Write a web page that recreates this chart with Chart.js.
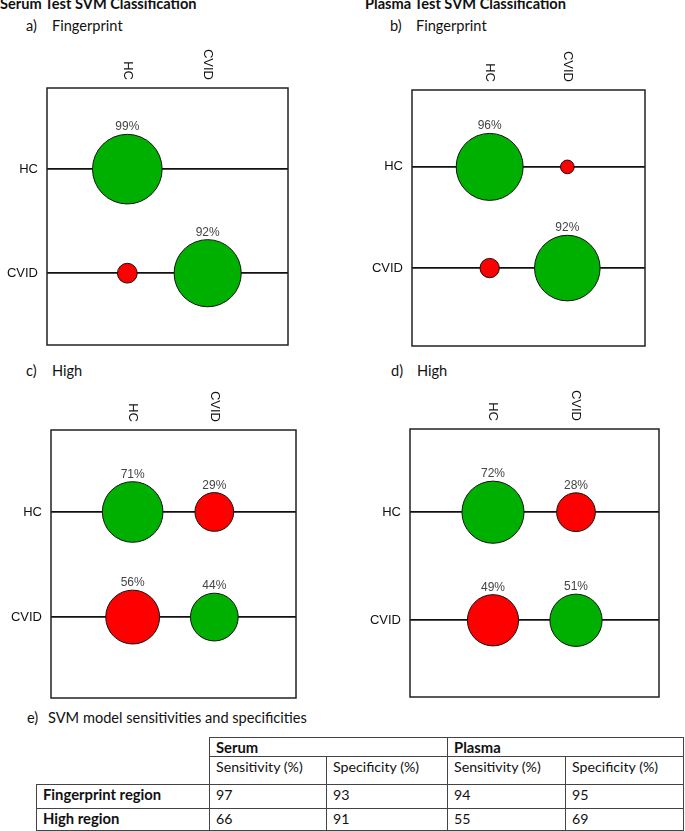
<!DOCTYPE html>
<html>
<head>
<meta charset="utf-8">
<script src="https://cdn.jsdelivr.net/npm/chart.js@4/dist/chart.umd.min.js"></script>
<style>
  html, body { margin: 0; padding: 0; background: #fff; }
  body { width: 685px; height: 831px; position: relative; overflow: hidden; font-family: Lato, "Noto Sans", sans-serif; color: #111; }
  .t { position: absolute; white-space: nowrap; line-height: 1; }
  .title { font-weight: bold; font-size: 14.6px; }
  .sub { font-size: 14.6px; }
  .panel { position: absolute; }
  table { position: absolute; left: 36px; top: 737px; border-collapse: collapse; font-size: 14.2px; table-layout: fixed; }
  td { border: 1px solid #444; padding: 2px 0 0 6px; vertical-align: top; white-space: nowrap; line-height: 1.1; }
  td.blank { border: none; }
  td.b { font-weight: bold; font-size: 14.8px; padding-top: 1px; }
</style>
</head>
<body>
<div class="t title" style="left:0px;top:-3px">Serum Test SVM Classification</div>
<div class="t title" style="left:365px;top:-3px">Plasma Test SVM Classification</div>
<div class="t sub" style="left:26px;top:19px">a)</div><div class="t sub" style="left:52px;top:19px">Fingerprint</div>
<div class="t sub" style="left:390px;top:19px">b)</div><div class="t sub" style="left:416px;top:19px">Fingerprint</div>
<div class="t sub" style="left:26px;top:364px">c)</div><div class="t sub" style="left:52px;top:364px">High</div>
<div class="t sub" style="left:391px;top:364px">d)</div><div class="t sub" style="left:417px;top:364px">High</div>
<div class="t sub" style="left:27px;top:711px">e)</div><div class="t sub" style="left:48px;top:711px">SVM model sensitivities and specificities</div>

<div class="panel" id="pa"><canvas id="ca"></canvas></div>
<div class="panel" id="pb"><canvas id="cb"></canvas></div>
<div class="panel" id="pc"><canvas id="cc"></canvas></div>
<div class="panel" id="pd"><canvas id="cd"></canvas></div>

<table id="tbl">
  <colgroup><col style="width:173px"><col style="width:117px"><col style="width:121px"><col style="width:118px"><col style="width:118px"></colgroup>
  <tbody id="tb"></tbody>
</table>

<script>
// ---- data ----
const classLabels = ['HC', 'CVID'];            // rows = true class, columns = predicted class
// Serum, fingerprint region (percent of each true class)
const serumFingerprintHC   = [99, null];
const serumFingerprintCVID = [8, 92];
// Plasma, fingerprint region
const plasmaFingerprintHC   = [96, 4];
const plasmaFingerprintCVID = [8, 92];
// Serum, high region
const serumHighHC   = [71, 29];
const serumHighCVID = [56, 44];
// Plasma, high region
const plasmaHighHC   = [72, 28];
const plasmaHighCVID = [49, 51];

// table e)
const tableRegions   = ['Fingerprint region', 'High region'];
const serumSens      = [97, 66];
const serumSpec      = [93, 91];
const plasmaSens     = [94, 55];
const plasmaSpec     = [95, 69];

// ---- styles / layout ----
const GREEN = '#00b000', RED = '#ff0000';
const WY = 50, HX = 50, PAD = 3;
const panels = [
  { canvas: 'ca', div: 'pa', rows: [serumFingerprintHC, serumFingerprintCVID],   box: [47, 288, 88, 345],  ymin: -0.78, ymax: 1.69, k: 3.5 },
  { canvas: 'cb', div: 'pb', rows: [plasmaFingerprintHC, plasmaFingerprintCVID], box: [412, 645, 90, 346], ymin: -0.76, ymax: 1.77, k: 3.42 },
  { canvas: 'cc', div: 'pc', rows: [serumHighHC, serumHighCVID],                 box: [51, 296, 430, 698], ymin: -0.78, ymax: 1.77, k: 3.6 },
  { canvas: 'cd', div: 'pd', rows: [plasmaHighHC, plasmaHighCVID],               box: [410, 659, 429, 697], ymin: -0.77, ymax: 1.71, k: 3.66 }
];

const boxPlugin = {
  id: 'boxPlugin',
  afterDraw(chart) {
    const { ctx, chartArea: a } = chart;
    ctx.save();
    ctx.strokeStyle = '#222';
    ctx.lineWidth = 1.5;
    ctx.strokeRect(a.left, a.top, a.right - a.left, a.bottom - a.top);
    // rotated column labels (top axis)
    const xs = chart.scales.x;
    ctx.fillStyle = '#111';
    ctx.font = '13px "Liberation Sans", Arial, sans-serif';
    ctx.textAlign = 'right';
    ctx.textBaseline = 'middle';
    classLabels.forEach((lab, i) => {
      const px = xs.getPixelForValue(i);
      ctx.save();
      ctx.translate(px, a.top - 8);
      ctx.rotate(Math.PI / 2);
      ctx.fillText(lab, 0, 0);
      ctx.restore();
    });
    ctx.restore();
  },
  afterDatasetsDraw(chart) {
    const { ctx } = chart;
    const meta = chart.getDatasetMeta(0);
    const ds = chart.data.datasets[0];
    ctx.save();
    ctx.fillStyle = '#444';
    ctx.font = '12px "Liberation Sans", Arial, sans-serif';
    ctx.textAlign = 'center';
    ctx.textBaseline = 'alphabetic';
    meta.data.forEach((el, i) => {
      const d = ds.data[i];
      if (d.p >= 10) ctx.fillText(d.p + '%', el.x, el.y - d.r - 4);
    });
    ctx.restore();
  }
};

panels.forEach(pn => {
  const [l, r, t, b] = pn.box;
  const left = l - WY, top = t - HX;
  const w = r - left + PAD, h = b - top + PAD;
  const div = document.getElementById(pn.div);
  div.style.left = left + 'px'; div.style.top = top + 'px';
  div.style.width = w + 'px'; div.style.height = h + 'px';
  const cv = document.getElementById(pn.canvas);
  cv.width = w; cv.height = h; cv.style.width = w + 'px'; cv.style.height = h + 'px';

  const points = [];
  pn.rows.forEach((row, yi) => row.forEach((p, xi) => {
    if (p != null) points.push({ x: xi, y: yi, p: p, r: pn.k * Math.sqrt(p) });
  }));

  new Chart(cv, {
    type: 'bubble',
    data: { datasets: [{
      data: points,
      backgroundColor: ctx => ctx.raw.x === ctx.raw.y ? GREEN : RED,
      borderColor: '#111',
      borderWidth: 1,
      hoverRadius: 0
    }] },
    options: {
      responsive: false,
      animation: false,
      devicePixelRatio: 1,
      events: [],
      layout: { autoPadding: false, padding: { left: 0, top: 0, right: PAD, bottom: PAD } },
      plugins: { legend: { display: false }, tooltip: { enabled: false } },
      scales: {
        x: {
          type: 'linear', position: 'top', min: -1, max: 2,
          ticks: { display: false }, grid: { display: false }, border: { display: false },
          afterFit: s => { s.height = HX; s.paddingLeft = 0; s.paddingRight = 0; }
        },
        y: {
          type: 'linear', reverse: true, min: pn.ymin, max: pn.ymax,
          afterBuildTicks: s => { s.ticks = classLabels.map((_, i) => ({ value: i })); },
          ticks: {
            callback: v => classLabels[v],
            font: { family: '"Liberation Sans", Arial, sans-serif', size: 13 },
            color: '#111', padding: 9
          },
          grid: { color: '#111', lineWidth: 1.8, drawTicks: false },
          border: { display: false },
          afterFit: s => { s.width = WY; s.paddingTop = 0; s.paddingBottom = 0; }
        }
      }
    },
    plugins: [boxPlugin]
  });
});

// ---- table ----
const tb = document.getElementById('tb');
const hdr1 = '<tr style="height:19px"><td class="blank" rowspan="2"></td><td class="b" colspan="2">Serum</td><td class="b" colspan="2">Plasma</td></tr>';
const hdr2 = '<tr style="height:28px"><td>Sensitivity (%)</td><td>Specificity (%)</td><td>Sensitivity (%)</td><td>Specificity (%)</td></tr>';
let body = hdr1 + hdr2;
const rh = [24, 22];
tableRegions.forEach((reg, i) => {
  body += '<tr style="height:' + rh[i] + 'px"><td class="b">' + reg + '</td><td>' + serumSens[i] + '</td><td>' + serumSpec[i] +
          '</td><td>' + plasmaSens[i] + '</td><td>' + plasmaSpec[i] + '</td></tr>';
});
tb.innerHTML = body;
</script>
</body>
</html>
